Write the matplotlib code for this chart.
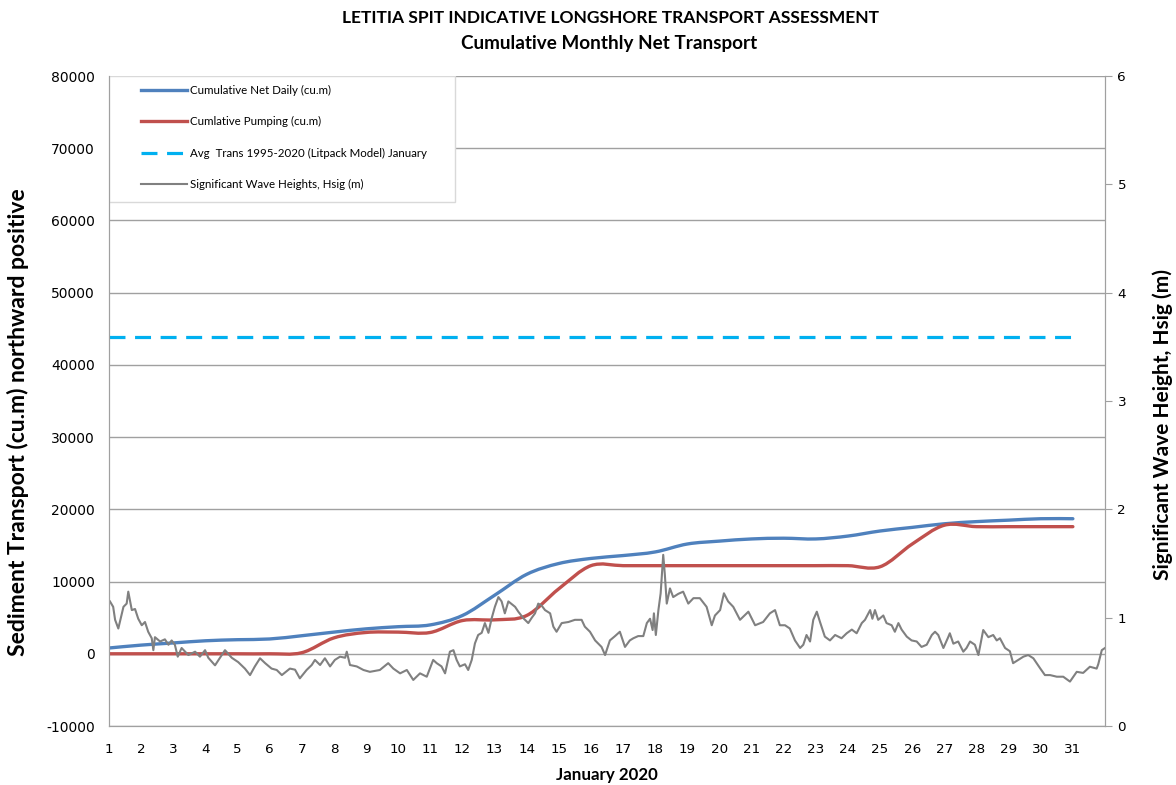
import numpy as np
import matplotlib
matplotlib.use('Agg')
import matplotlib.pyplot as plt
from matplotlib.path import Path
from matplotlib.patches import PathPatch, Rectangle
from matplotlib.lines import Line2D

plt.rcParams['axes.unicode_minus'] = False

# Daily cumulative values (cu.m), days 1..31 of January 2020
days = list(range(1, 32))
net_daily = [800, 1200, 1500, 1800, 1950, 2050, 2500, 3000, 3450, 3750,
             4000, 5300, 8100, 11000, 12500, 13200, 13600, 14100, 15200, 15600,
             15900, 16000, 15900, 16300, 17000, 17500, 18000, 18300, 18500, 18700,
             18700]
pumping = [0, 0, 0, 0, 0, 0, 150, 2200, 2950, 3000,
           2950, 4600, 4700, 5300, 9000, 12200, 12200, 12200, 12200, 12200,
           12200, 12200, 12200, 12200, 12050, 15200, 17800, 17600, 17600, 17600,
           17600]
avg_trans = 43900

# Significant wave height (m) vs. day of month
wave_day = [1.03, 1.13, 1.19, 1.29, 1.40, 1.45, 1.55, 1.60, 1.71, 1.81, 1.91, 2.02, 2.12, 2.22,
            2.33, 2.38, 2.43, 2.59, 2.74, 2.85, 2.95, 3.05, 3.14, 3.26, 3.47, 3.68, 3.83, 3.99,
            4.09, 4.30, 4.51, 4.61, 4.82, 5.02, 5.23, 5.39, 5.54, 5.70, 5.86, 6.06, 6.22, 6.38,
            6.63, 6.79, 6.94, 7.15, 7.31, 7.41, 7.57, 7.72, 7.88, 8.03, 8.19, 8.35, 8.40, 8.50,
            8.71, 8.92, 9.12, 9.43, 9.69, 9.85, 10.06, 10.27, 10.47, 10.68, 10.89, 11.09, 11.20,
            11.35, 11.46, 11.61, 11.72, 11.82, 11.92, 12.08, 12.18, 12.29, 12.39, 12.49, 12.60,
            12.70, 12.81, 12.91, 13.01, 13.12, 13.22, 13.32, 13.43, 13.64, 13.74, 13.90, 14.05,
            14.16, 14.26, 14.36, 14.47, 14.57, 14.73, 14.83, 14.93, 15.09, 15.30, 15.50, 15.71,
            15.81, 15.97, 16.13, 16.33, 16.44, 16.59, 16.75, 16.90, 17.06, 17.21, 17.32, 17.47,
            17.63, 17.74, 17.84, 17.92, 17.96, 18.02, 18.10, 18.17, 18.25, 18.30, 18.36, 18.46,
            18.56, 18.72, 18.87, 19.03, 19.19, 19.39, 19.60, 19.76, 19.86, 20.02, 20.14, 20.27,
            20.43, 20.64, 20.90, 21.11, 21.36, 21.57, 21.73, 21.88, 22.04, 22.19, 22.35, 22.51,
            22.61, 22.71, 22.82, 22.92, 23.03, 23.13, 23.28, 23.44, 23.60, 23.80, 23.96, 24.12,
            24.27, 24.43, 24.53, 24.69, 24.76, 24.84, 24.94, 25.10, 25.20, 25.36, 25.46, 25.57,
            25.67, 25.83, 25.98, 26.14, 26.29, 26.45, 26.61, 26.71, 26.81, 26.97, 27.12, 27.17,
            27.28, 27.43, 27.59, 27.69, 27.80, 27.95, 28.06, 28.21, 28.37, 28.52, 28.63, 28.73,
            28.89, 29.04, 29.14, 29.30, 29.46, 29.61, 29.77, 29.98, 30.13, 30.29, 30.50, 30.70,
            30.91, 31.12, 31.32, 31.53, 31.74, 31.79, 31.90, 32.00]
wave_h = [1.15, 1.10, 0.98, 0.90, 1.04, 1.10, 1.13, 1.24, 1.07, 1.08, 0.99, 0.93, 0.96, 0.87,
          0.81, 0.70, 0.82, 0.78, 0.80, 0.75, 0.79, 0.75, 0.64, 0.72, 0.655, 0.686, 0.64, 0.70,
          0.63, 0.56, 0.655, 0.70, 0.63, 0.59, 0.53, 0.47, 0.55, 0.625, 0.58, 0.53, 0.517, 0.47,
          0.53, 0.52, 0.44, 0.517, 0.563, 0.61, 0.563, 0.625, 0.55, 0.61, 0.64, 0.63, 0.686, 0.563,
          0.55, 0.517, 0.50, 0.517, 0.58, 0.53, 0.486, 0.517, 0.425, 0.486, 0.455, 0.61, 0.58,
          0.55, 0.486, 0.686, 0.70, 0.61, 0.55, 0.57, 0.517, 0.61, 0.763, 0.84, 0.86,
          0.95, 0.86, 0.994, 1.10, 1.19, 1.15, 1.04, 1.15, 1.10, 1.055, 0.994, 0.95,
          1.00, 1.04, 1.13, 1.11, 1.07, 1.04, 0.917, 0.87, 0.95, 0.96, 0.98, 0.98,
          0.917, 0.87, 0.79, 0.73, 0.655, 0.79, 0.83, 0.87, 0.73, 0.79, 0.81, 0.83,
          0.83, 0.95, 0.99, 0.886, 1.04, 0.84, 1.07, 1.225, 1.58, 1.40, 1.13, 1.27,
          1.19, 1.22, 1.24, 1.13, 1.18, 1.18, 1.10, 0.93, 1.02, 1.07, 1.225, 1.15,
          1.10, 0.98, 1.055, 0.93, 0.96, 1.04, 1.07, 0.93, 0.93, 0.90, 0.79, 0.72,
          0.75, 0.84, 0.78, 0.98, 1.055, 0.96, 0.825, 0.79, 0.84, 0.81, 0.856, 0.89,
          0.856, 0.95, 0.98, 1.07, 0.99, 1.07, 0.98, 1.02, 0.95, 0.93, 0.87, 0.95,
          0.89, 0.825, 0.79, 0.78, 0.73, 0.75, 0.84, 0.87, 0.84, 0.72, 0.82, 0.856,
          0.76, 0.78, 0.686, 0.72, 0.78, 0.75, 0.655, 0.886, 0.82, 0.84, 0.79, 0.81,
          0.72, 0.69, 0.58, 0.61, 0.64, 0.655, 0.625, 0.533, 0.47, 0.47, 0.455, 0.455,
          0.41, 0.50, 0.49, 0.547, 0.53, 0.57, 0.70, 0.72]

labels = ['Cumulative Net Daily (cu.m)', 'Cumlative Pumping (cu.m)',
          'Avg  Trans 1995-2020 (Litpack Model) January', 'Significant Wave Heights, Hsig (m)']

BLUE = '#4F81BD'
RED = '#C0504D'
CYAN = '#00B0F0'
GREY = '#808080'
GRID = '#A0A0A0'


def smooth_path(x, y):
    # Excel-style smoothed line: Catmull-Rom segments as cubic Bezier curves
    pts = np.column_stack([x, y]).astype(float)
    p = np.vstack([pts[0], pts, pts[-1]])
    verts = [pts[0]]
    codes = [Path.MOVETO]
    for i in range(len(pts) - 1):
        p0, p1, p2, p3 = p[i], p[i + 1], p[i + 2], p[i + 3]
        verts += [p1 + (p2 - p0) / 6, p2 - (p3 - p1) / 6, p2]
        codes += [Path.CURVE4] * 3
    return Path(verts, codes)


fig = plt.figure(figsize=(11.76, 7.85), dpi=100)
ax1 = fig.add_axes([109 / 1176, 1 - 726 / 785, 996 / 1176, 650 / 785])
ax2 = ax1.twinx()

ax1.set_xlim(1, 32)
ax1.set_ylim(-10000, 80000)
ax2.set_ylim(0, 6)

ax1.set_yticks(np.arange(-10000, 80001, 10000))
ax1.set_xticks(days)
ax1.grid(axis='y', color=GRID, lw=1)
ax1.set_axisbelow(True)

ax1.add_patch(PathPatch(smooth_path(days, net_daily), fill=False, ec=BLUE, lw=2.4,
                        capstyle='round', zorder=3))
ax1.add_patch(PathPatch(smooth_path(days, pumping), fill=False, ec=RED, lw=2.4,
                        capstyle='round', zorder=3))
ax1.plot([days[0], days[-1]], [avg_trans, avg_trans], color=CYAN, lw=2.3,
         dashes=(5, 3), zorder=3)
ax2.plot(wave_day, wave_h, color=GREY, lw=1.5)

for ax in (ax1, ax2):
    for s in ax.spines.values():
        s.set_color(GRID)
ax1.spines['top'].set_visible(False)
ax2.spines['top'].set_visible(False)

ax1.tick_params(axis='y', length=0, pad=10, labelsize=10)
ax1.tick_params(axis='x', length=0, pad=12, labelsize=9.7)
ax2.tick_params(axis='y', length=5, color=GRID, pad=4, labelsize=9.7)

# legend box
ax1.add_patch(Rectangle((0, (726 - 202) / 650), (455 - 109) / 996, (202 - 76) / 650,
                        transform=ax1.transAxes, fc='white', ec='#D9D9D9', lw=1, zorder=4))
handles = [Line2D([], [], color=BLUE, lw=2.4),
           Line2D([], [], color=RED, lw=2.4),
           Line2D([], [], color=CYAN, lw=2.3, dashes=(5, 3)),
           Line2D([], [], color=GREY, lw=1.5)]
leg = ax1.legend(handles, labels, loc='upper left',
                 bbox_to_anchor=((141 - 109) / 996, (726 - 85) / 650),
                 frameon=False, borderpad=0, borderaxespad=0, handlelength=4.0,
                 handletextpad=0.26, labelspacing=1.76,
                 prop={'family': 'Lato', 'size': 8.3})
leg.set_zorder(5)

fig.text(611 / 1176, 1 - 18 / 785, 'LETITIA SPIT INDICATIVE LONGSHORE TRANSPORT ASSESSMENT',
         ha='center', va='center', fontsize=12.5, fontweight='bold', family='Lato')
fig.text(609 / 1176, 1 - 44 / 785, 'Cumulative Monthly Net Transport',
         ha='center', va='center', fontsize=13.6, fontweight='bold', family='Lato')
fig.text(18 / 1176, 1 - 422 / 785, 'Sediment Transport (cu.m) northward positive',
         rotation=90, ha='center', va='center', fontsize=16.5, fontweight='bold', family='Lato')
fig.text(1163 / 1176, 1 - 425 / 785, 'Significant Wave Height, Hsig (m)',
         rotation=90, ha='center', va='center', fontsize=15, fontweight='bold', family='Lato')
fig.text(607 / 1176, 1 - 775 / 785, 'January 2020',
         ha='center', va='center', fontsize=12.2, fontweight='bold', family='Lato')

fig.savefig('out.png', dpi=100)
